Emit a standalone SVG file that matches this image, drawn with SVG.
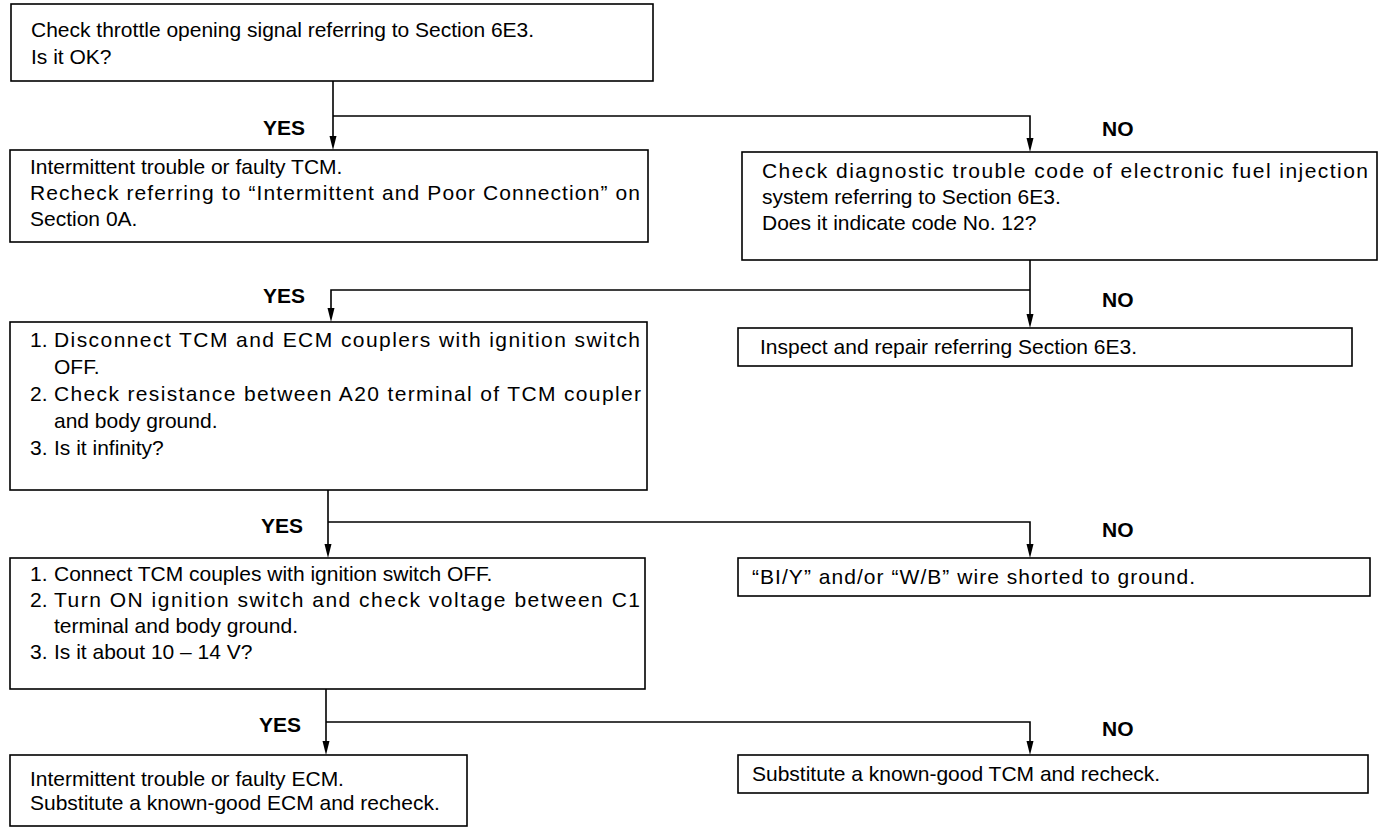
<svg xmlns="http://www.w3.org/2000/svg" width="1380" height="832" viewBox="0 0 1380 832">
<defs>
<style>
.box{fill:#fff;stroke:#000;stroke-width:1.6}
.t{font-family:"Liberation Sans",Arial,sans-serif;font-size:21px;fill:#000}
.lbl{font-family:"Liberation Sans",Arial,sans-serif;font-size:21px;font-weight:bold;fill:#000}
.ln{fill:none;stroke:#000;stroke-width:1.6}
.ah{fill:#000}
</style>
</defs>
<rect width="1380" height="832" fill="#fff"/>

<g id="connectors">
<path class="ln" d="M333,81 V140"/>
<path class="ln" d="M333,116 H1030 V142"/>
<path class="ln" d="M1030,260 V318"/>
<path class="ln" d="M1030,290 H331 V312"/>
<path class="ln" d="M328,490 V548"/>
<path class="ln" d="M328,522 H1030 V548"/>
<path class="ln" d="M326,689 V745"/>
<path class="ln" d="M326,722 H1030 V745"/>
<path class="ah" d="M329.5,136 L336.5,136 L333,150 Z"/>
<path class="ah" d="M1026.5,138 L1033.5,138 L1030,152 Z"/>
<path class="ah" d="M327.5,308 L334.5,308 L331,322 Z"/>
<path class="ah" d="M1026.5,314 L1033.5,314 L1030,328 Z"/>
<path class="ah" d="M324.5,544 L331.5,544 L328,558 Z"/>
<path class="ah" d="M1026.5,544 L1033.5,544 L1030,558 Z"/>
<path class="ah" d="M322.5,741 L329.5,741 L326,755 Z"/>
<path class="ah" d="M1026.5,741 L1033.5,741 L1030,755 Z"/>
<text class="lbl" x="305" y="135" text-anchor="end">YES</text>
<text class="lbl" x="1102" y="136">NO</text>
<text class="lbl" x="305" y="303" text-anchor="end">YES</text>
<text class="lbl" x="1102" y="307">NO</text>
<text class="lbl" x="303" y="533" text-anchor="end">YES</text>
<text class="lbl" x="1102" y="537">NO</text>
<text class="lbl" x="301" y="732" text-anchor="end">YES</text>
<text class="lbl" x="1102" y="736">NO</text>
</g>

<g id="n1">
<rect class="box" x="11" y="4" width="642" height="77"/>
<text class="t" x="31" y="37">Check throttle opening signal referring to Section 6E3.</text>
<text class="t" x="31" y="64">Is it OK?</text>
</g>

<g id="n2">
<rect class="box" x="10" y="150" width="638" height="92"/>
<text class="t" x="30" y="174">Intermittent trouble or faulty TCM.</text>
<text class="t" x="30" y="200" textLength="610" lengthAdjust="spacing">Recheck referring to “Intermittent and Poor Connection” on</text>
<text class="t" x="30" y="226">Section 0A.</text>
</g>

<g id="n3">
<rect class="box" x="742" y="152" width="635" height="108"/>
<text class="t" x="762" y="178" textLength="606" lengthAdjust="spacing">Check diagnostic trouble code of electronic fuel injection</text>
<text class="t" x="762" y="204">system referring to Section 6E3.</text>
<text class="t" x="762" y="230">Does it indicate code No. 12?</text>
</g>

<g id="n4">
<rect class="box" x="738" y="328" width="614" height="38"/>
<text class="t" x="760" y="354">Inspect and repair referring Section 6E3.</text>
</g>

<g id="n5">
<rect class="box" x="10" y="322" width="637" height="168"/>
<text class="t" x="30" y="347">1.</text>
<text class="t" x="54" y="347" textLength="586" lengthAdjust="spacing">Disconnect TCM and ECM couplers with ignition switch</text>
<text class="t" x="54" y="374">OFF.</text>
<text class="t" x="30" y="401">2.</text>
<text class="t" x="54" y="401" textLength="587" lengthAdjust="spacing">Check resistance between A20 terminal of TCM coupler</text>
<text class="t" x="54" y="428">and body ground.</text>
<text class="t" x="30" y="455">3.</text>
<text class="t" x="54" y="455">Is it infinity?</text>
</g>

<g id="n6">
<rect class="box" x="738" y="558" width="632" height="38"/>
<text class="t" x="752" y="584" textLength="443" lengthAdjust="spacing">“BI/Y” and/or “W/B” wire shorted to ground.</text>
</g>

<g id="n7">
<rect class="box" x="10" y="558" width="635" height="131"/>
<text class="t" x="30" y="581">1.</text>
<text class="t" x="54" y="581">Connect TCM couples with ignition switch OFF.</text>
<text class="t" x="30" y="607">2.</text>
<text class="t" x="54" y="607" textLength="586" lengthAdjust="spacing">Turn ON ignition switch and check voltage between C1</text>
<text class="t" x="54" y="633">terminal and body ground.</text>
<text class="t" x="30" y="659">3.</text>
<text class="t" x="54" y="659">Is it about 10 – 14 V?</text>
</g>

<g id="n8">
<rect class="box" x="10" y="755" width="457" height="71"/>
<text class="t" x="30" y="786">Intermittent trouble or faulty ECM.</text>
<text class="t" x="30" y="810">Substitute a known-good ECM and recheck.</text>
</g>

<g id="n9">
<rect class="box" x="738" y="755" width="630" height="38"/>
<text class="t" x="752" y="781">Substitute a known-good TCM and recheck.</text>
</g>
</svg>
